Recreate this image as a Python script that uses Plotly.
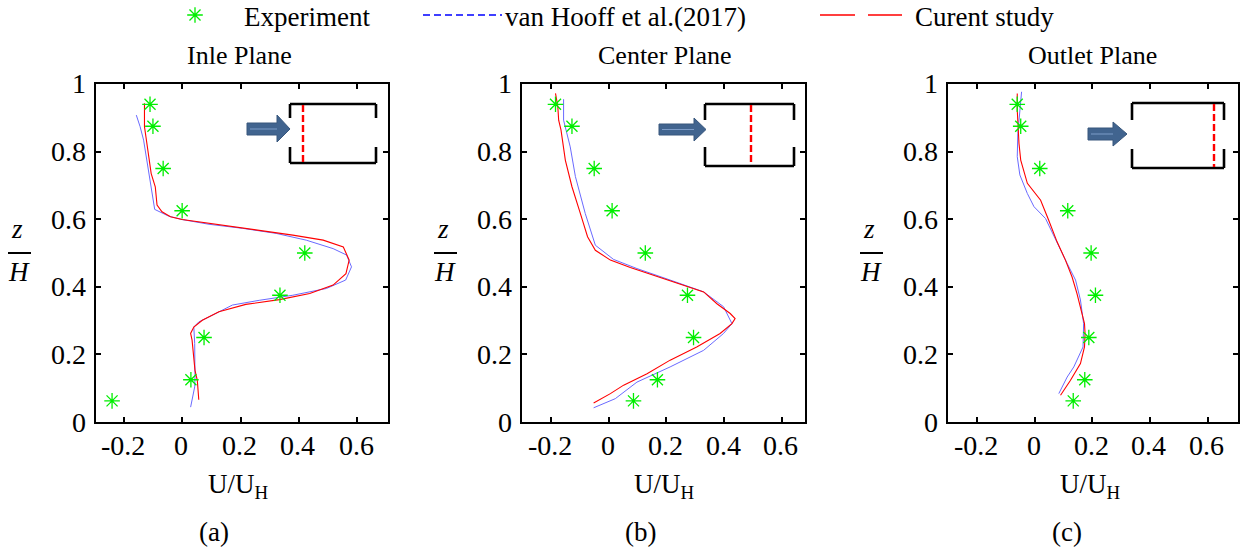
import plotly.graph_objects as go

W, H = 1247, 550
FONT = "Liberation Serif"

# ---------------- data ----------------
exp_z = [0.0625, 0.125, 0.25, 0.375, 0.5, 0.625, 0.75, 0.875, 0.94]
inlet_exp_u = [-0.24, 0.03, 0.075, 0.335, 0.42, 0.0, -0.065, -0.10, -0.11]
center_exp_u = [0.086, 0.169, 0.294, 0.273, 0.127, 0.012, -0.050, -0.127, -0.184]
outlet_exp_u = [0.134, 0.174, 0.188, 0.211, 0.196, 0.115, 0.018, -0.048, -0.060]

inlet_cur_z = [0.943, 0.874, 0.844, 0.735, 0.696, 0.642, 0.622, 0.607, 0.599, 0.592, 0.582, 0.568,
               0.553, 0.538, 0.518, 0.479, 0.439, 0.405, 0.380, 0.362, 0.348, 0.326, 0.301, 0.281,
               0.262, 0.242, 0.183, 0.153, 0.123, 0.084, 0.066]
inlet_cur_u = [-0.129, -0.129, -0.124, -0.106, -0.092, -0.086, -0.069, -0.040, 0.0, 0.057, 0.149, 0.264,
               0.379, 0.483, 0.552, 0.572, 0.561, 0.517, 0.437, 0.333, 0.218, 0.126, 0.069, 0.040,
               0.029, 0.034, 0.040, 0.044, 0.052, 0.055, 0.057]
inlet_ref_z = [0.908, 0.874, 0.834, 0.775, 0.706, 0.629, 0.609, 0.599, 0.585, 0.573, 0.558, 0.538,
               0.513, 0.494, 0.459, 0.420, 0.395, 0.375, 0.360, 0.346, 0.321, 0.296, 0.281, 0.232,
               0.133, 0.104, 0.044]
inlet_ref_u = [-0.157, -0.144, -0.132, -0.121, -0.109, -0.094, -0.046, 0.0, 0.092, 0.207, 0.322, 0.425,
               0.517, 0.563, 0.580, 0.560, 0.494, 0.379, 0.264, 0.172, 0.115, 0.057, 0.040, 0.043,
               0.044, 0.043, 0.029]

center_cur_z = [0.972, 0.933, 0.893, 0.864, 0.775, 0.696, 0.617, 0.548, 0.508, 0.479, 0.457, 0.431,
                0.410, 0.385, 0.350, 0.321, 0.306, 0.291, 0.262, 0.222, 0.183, 0.143, 0.109, 0.084, 0.056]
center_cur_u = [-0.184, -0.176, -0.173, -0.165, -0.150, -0.127, -0.098, -0.073, -0.046, 0.006, 0.075, 0.167,
                0.248, 0.329, 0.375, 0.421, 0.438, 0.427, 0.386, 0.305, 0.213, 0.133, 0.052, 0.006, -0.052]
center_ref_z = [0.955, 0.893, 0.814, 0.726, 0.617, 0.523, 0.481, 0.454, 0.420, 0.385, 0.341, 0.291,
                0.262, 0.212, 0.163, 0.118, 0.069, 0.042]
center_ref_u = [-0.156, -0.156, -0.133, -0.115, -0.081, -0.046, 0.017, 0.098, 0.213, 0.329, 0.398, 0.427,
                0.398, 0.329, 0.213, 0.098, 0.023, -0.052]

outlet_cur_z = [0.972, 0.923, 0.824, 0.775, 0.706, 0.656, 0.597, 0.533, 0.479, 0.429, 0.380, 0.341,
                0.291, 0.262, 0.222, 0.173, 0.123, 0.079]
outlet_cur_u = [-0.060, -0.060, -0.054, -0.048, -0.025, 0.021, 0.049, 0.078, 0.107, 0.130, 0.147, 0.159,
                0.173, 0.175, 0.173, 0.159, 0.124, 0.090]
outlet_ref_z = [0.977, 0.923, 0.854, 0.785, 0.731, 0.676, 0.637, 0.602, 0.538, 0.469, 0.420, 0.361,
                0.291, 0.222, 0.163, 0.133, 0.084]
outlet_ref_u = [-0.045, -0.051, -0.058, -0.060, -0.051, -0.025, -0.002, 0.038, 0.073, 0.113, 0.142, 0.159,
                0.170, 0.168, 0.136, 0.113, 0.084]

panel_titles = ["Inle Plane", "Center Plane", "Outlet Plane"]
panel_tags = ["(a)", "(b)", "(c)"]
legend_labels = ["Experiment", "van Hooff et al.(2017)", "Curent study"]
x_ticks = [-0.2, 0, 0.2, 0.4, 0.6]
x_ticktext = ["-0.2", "0", "0.2", "0.4", "0.6"]
y_ticks = [0, 0.2, 0.4, 0.6, 0.8, 1]
y_ticktext = ["0", "0.2", "0.4", "0.6", "0.8", "1"]

GREEN = "#00ee00"
BLUE = "#6a6aff"
RED = "#ff0000"
ARROW = "#41648f"

# ---------------- layout geometry (pixels) ----------------
panels = [  # left, right, x-range
    (96, 388, [-0.295, 0.705]),
    (522, 805, [-0.30, 0.68]),
    (948, 1238, [-0.30, 0.705]),
]
TOP, BOT = 84, 422


def px(x):
    return x / W


def py(y):
    return 1 - y / H


fig = go.Figure()

series = [
    (inlet_exp_u, inlet_ref_u, inlet_ref_z, inlet_cur_u, inlet_cur_z),
    (center_exp_u, center_ref_u, center_ref_z, center_cur_u, center_cur_z),
    (outlet_exp_u, outlet_ref_u, outlet_ref_z, outlet_cur_u, outlet_cur_z),
]

for i, (eu, ru, rz, cu, cz) in enumerate(series):
    xa = "x" if i == 0 else f"x{i+1}"
    ya = "y" if i == 0 else f"y{i+1}"
    fig.add_trace(go.Scatter(x=ru, y=rz, mode="lines", line=dict(color=BLUE, width=1),
                             xaxis=xa, yaxis=ya, showlegend=False))
    fig.add_trace(go.Scatter(x=cu, y=cz, mode="lines", line=dict(color=RED, width=1.1),
                             xaxis=xa, yaxis=ya, showlegend=False))
    fig.add_trace(go.Scatter(x=eu, y=exp_z, mode="markers",
                             marker=dict(symbol="asterisk-open", size=13,
                                         line=dict(color=GREEN, width=1.3), color=GREEN),
                             xaxis=xa, yaxis=ya, showlegend=False))

# legend marker on an overlay strip axis
fig.add_trace(go.Scatter(x=[195], y=[15], mode="markers",
                         marker=dict(symbol="asterisk-open", size=13, color=GREEN,
                                     line=dict(color=GREEN, width=1.3)),
                         xaxis="x4", yaxis="y4", showlegend=False))

axis_common = dict(showline=True, linecolor="black", linewidth=2, mirror="ticks",
                   ticks="inside", ticklen=5, tickwidth=1.5, tickcolor="black",
                   showgrid=False, zeroline=False, automargin=False, showticklabels=False)

layout = dict(template="none", width=W, height=H, autosize=False,
              margin=dict(l=0, r=0, t=0, b=0, pad=0),
              paper_bgcolor="white", plot_bgcolor="rgba(0,0,0,0)", showlegend=False,
              font=dict(family=FONT, color="black", size=27))

for i, (l, r, rng) in enumerate(panels):
    xk = "xaxis" if i == 0 else f"xaxis{i+1}"
    yk = "yaxis" if i == 0 else f"yaxis{i+1}"
    ya = "y" if i == 0 else f"y{i+1}"
    xa = "x" if i == 0 else f"x{i+1}"
    layout[xk] = dict(axis_common, domain=[px(l), px(r)], range=rng, anchor=ya,
                      tickmode="array", tickvals=x_ticks)
    layout[yk] = dict(axis_common, domain=[py(BOT), py(TOP)], range=[0, 1], anchor=xa,
                      tickmode="array", tickvals=y_ticks)

layout["xaxis4"] = dict(domain=[0, 1], range=[0, W], visible=False, anchor="y4", automargin=False)
layout["yaxis4"] = dict(domain=[py(55), 1], range=[55, 0], visible=False, anchor="x4", automargin=False)

fig.update_layout(**layout)

ann = []
shapes = []


def text(x, y, s, size=27, xanchor="center", italic=False):
    ann.append(dict(x=px(x), y=py(y), xref="paper", yref="paper", text=s, showarrow=False,
                    xanchor=xanchor, yanchor="middle",
                    font=dict(family=FONT, size=size, color="black",
                              style="italic" if italic else "normal")))


# tick labels placed through each axis' own scale
TICK_SIZE = 28
for i in range(3):
    xa = "x" if i == 0 else f"x{i+1}"
    ya = "y" if i == 0 else f"y{i+1}"
    for v, t in zip(x_ticks, x_ticktext):
        ann.append(dict(x=v, y=0, xref=xa, yref=f"{ya} domain", text=t, showarrow=False,
                        xanchor="center", yanchor="middle", yshift=-23, xshift=-1,
                        font=dict(family=FONT, size=TICK_SIZE, color="black")))
    for v, t in zip(y_ticks, y_ticktext):
        ann.append(dict(x=0, y=v, xref=f"{xa} domain", yref=ya, text=t, showarrow=False,
                        xanchor="right", yanchor="middle", xshift=-8,
                        font=dict(family=FONT, size=TICK_SIZE, color="black")))

# legend
text(242, 17, legend_labels[0], xanchor="left")
shapes.append(dict(type="line", xref="paper", yref="paper", x0=px(423), x1=px(502), y0=py(15), y1=py(15),
                   line=dict(color="#0000ff", width=1.5, dash="7px,4px")))
text(503, 17, legend_labels[1], xanchor="left")
shapes.append(dict(type="line", xref="paper", yref="paper", x0=px(820), x1=px(902), y0=py(15), y1=py(15),
                   line=dict(color=RED, width=1.5, dash="35px,13px")))
text(913, 17, legend_labels[2], xanchor="left")

title_x = [239, 665, 1092]
ulabel_x = [238, 664, 1090]
tag_x = [214, 640, 1067]
for i in range(3):
    text(title_x[i], 56, panel_titles[i], size=26)
    text(ulabel_x[i], 486, "U/U<sub>H</sub>", size=27)
    text(tag_x[i], 532, panel_tags[i], size=27)
    # z/H fraction
    off = [0, 426, 852][i]
    text(17 + off, 229, "z", size=27, italic=True)
    shapes.append(dict(type="line", xref="paper", yref="paper", x0=px(8 + off), x1=px(31 + off),
                       y0=py(253), y1=py(253), line=dict(color="black", width=2)))
    text(19 + off, 272, "H", size=27, italic=True)

# insets (pixel geometry)
insets = [
    # box l, r, top, bot, gap_top, gap_bot, red_x, arrow tail, head start, tip, body top, body bot, head top, head bot
    (290, 376, 104, 163, 118, 147, 303, 247, 277, 290, 123, 135, 115, 142),
    (705, 794, 104, 166, 120, 147, 751, 659, 694, 706, 124, 135, 118, 141),
    (1132, 1224, 103, 168, 120, 149, 1214, 1088, 1113, 1127, 128, 140, 122, 146),
]
for (bl, br, bt, bb, gt, gb, rx, at, ah, tip, bdt, bdb, hdt, hdb) in insets:
    def L(x0, y0, x1, y1, color="black", width=2.6, dash=None):
        d = dict(color=color, width=width)
        if dash:
            d["dash"] = dash
        shapes.append(dict(type="line", xref="paper", yref="paper", x0=px(x0), x1=px(x1),
                           y0=py(y0), y1=py(y1), line=d))
    L(bl, bt, br, bt)
    L(bl, bb, br, bb)
    L(bl, bt, bl, gt)
    L(bl, gb, bl, bb)
    L(br, bt, br, gt)
    L(br, gb, br, bb)
    L(rx, bt + 1, rx, bb - 1, color=RED, width=2.4, dash="7px,3px")
    cy = (bdt + bdb) / 2
    path = (f"M {px(at)},{py(bdt)} L {px(ah)},{py(bdt)} L {px(ah)},{py(hdt)} L {px(tip)},{py(cy)} "
            f"L {px(ah)},{py(hdb)} L {px(ah)},{py(bdb)} L {px(at)},{py(bdb)} Z")
    shapes.append(dict(type="path", xref="paper", yref="paper", path=path,
                       fillcolor=ARROW, line=dict(color="#38577d", width=1)))
    L(at + 3, cy, ah, cy, color="#7d9cc8", width=1)

fig.update_layout(annotations=ann, shapes=shapes)
fig.write_html("out.html")
